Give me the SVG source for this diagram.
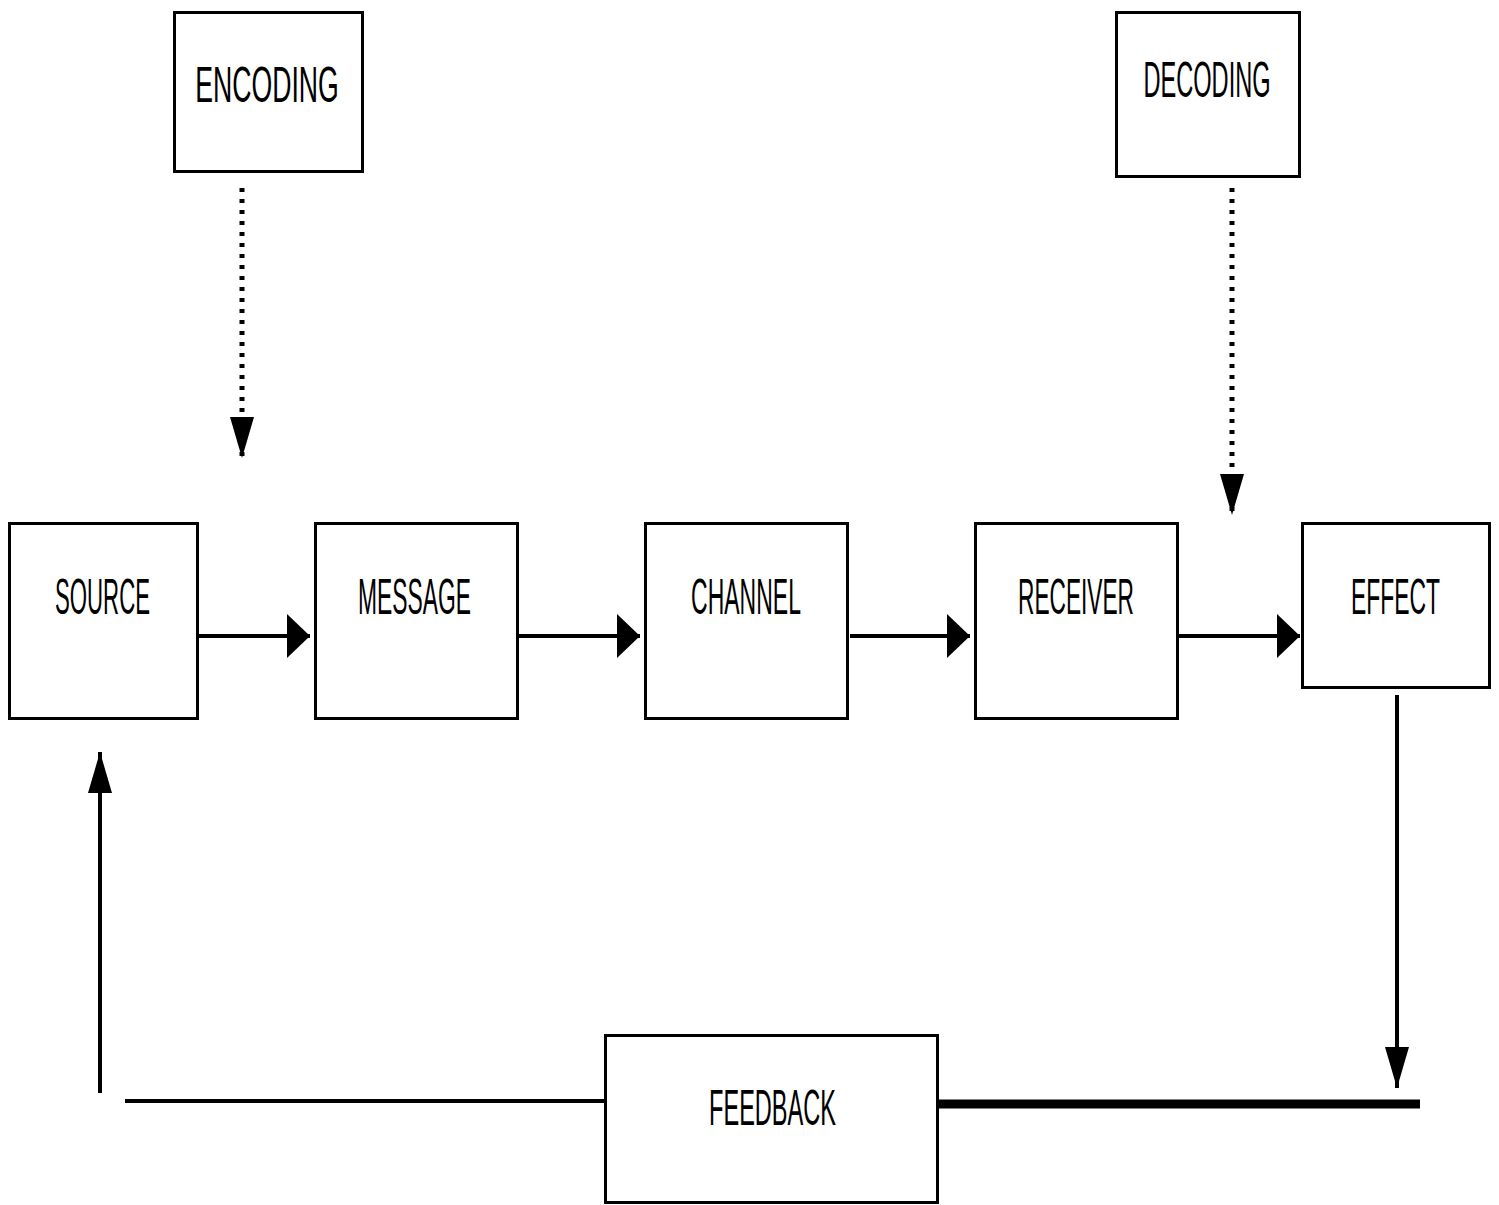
<svg xmlns="http://www.w3.org/2000/svg" width="1499" height="1205" viewBox="0 0 1499 1205">
<style>
.box{fill:#fff;stroke:#000;stroke-width:3}
.lbl{font-family:"Liberation Sans",Arial,sans-serif;font-size:50px;fill:#000;text-anchor:middle}
.ln{stroke:#000;stroke-width:4;fill:none}
.dot{stroke:#000;stroke-width:5;fill:none;stroke-dasharray:4 7}
.thick{stroke:#000;stroke-width:9;fill:none}
</style>
<defs>
<marker id="ah" markerUnits="userSpaceOnUse" markerWidth="24" markerHeight="46" refX="23" refY="23" orient="auto" viewBox="0 0 24 46">
<path d="M0,1 L23,23 L0,45 z" fill="#000"/>
</marker>
<marker id="av" markerUnits="userSpaceOnUse" markerWidth="42" markerHeight="26" refX="41" refY="13" orient="auto" viewBox="0 0 42 26">
<path d="M0,1 L41,13 L0,25 z" fill="#000"/>
</marker>
</defs>
<rect width="1499" height="1205" fill="#fff"/>
<g id="connectors">
<line class="dot" x1="242" y1="188" x2="242" y2="458" marker-end="url(#av)"/>
<line class="dot" x1="1232" y1="188" x2="1232" y2="515" marker-end="url(#av)"/>
<line class="ln" x1="199" y1="636" x2="310" y2="636" marker-end="url(#ah)"/>
<line class="ln" x1="519" y1="636" x2="640" y2="636" marker-end="url(#ah)"/>
<line class="ln" x1="850" y1="636" x2="970" y2="636" marker-end="url(#ah)"/>
<line class="ln" x1="1179" y1="636" x2="1300" y2="636" marker-end="url(#ah)"/>
<line class="ln" x1="1397" y1="695" x2="1397" y2="1088" marker-end="url(#av)"/>
<line class="thick" x1="938" y1="1104" x2="1420" y2="1104"/>
<line class="ln" x1="125" y1="1101" x2="605" y2="1101"/>
<line class="ln" x1="100" y1="1093" x2="100" y2="752" marker-end="url(#av)"/>
</g>
<g id="encoding"><rect class="box" x="174.5" y="12.5" width="188" height="159"/><text class="lbl" font-size="48" transform="translate(267,102) scale(0.533,1)">ENCODING</text></g>
<g id="decoding"><rect class="box" x="1116.5" y="12.5" width="183" height="164"/><text class="lbl" font-size="48" transform="translate(1207,97) scale(0.472,1)">DECODING</text></g>
<g id="source"><rect class="box" x="9.5" y="523.5" width="188" height="195"/><text class="lbl" transform="translate(102.5,614) scale(0.444,1)">SOURCE</text></g>
<g id="message"><rect class="box" x="315.5" y="523.5" width="202" height="195"/><text class="lbl" transform="translate(414.5,614) scale(0.457,1)">MESSAGE</text></g>
<g id="channel"><rect class="box" x="645.5" y="523.5" width="202" height="195"/><text class="lbl" transform="translate(746,614) scale(0.46,1)">CHANNEL</text></g>
<g id="receiver"><rect class="box" x="975.5" y="523.5" width="202" height="195"/><text class="lbl" transform="translate(1076,614) scale(0.454,1)">RECEIVER</text></g>
<g id="effect"><rect class="box" x="1302.5" y="523.5" width="187" height="164"/><text class="lbl" transform="translate(1395.5,614) scale(0.458,1)">EFFECT</text></g>
<g id="feedback"><rect class="box" x="605.5" y="1035.5" width="332" height="167"/><text class="lbl" transform="translate(772.5,1125) scale(0.471,1)">FEEDBACK</text></g>
</svg>
